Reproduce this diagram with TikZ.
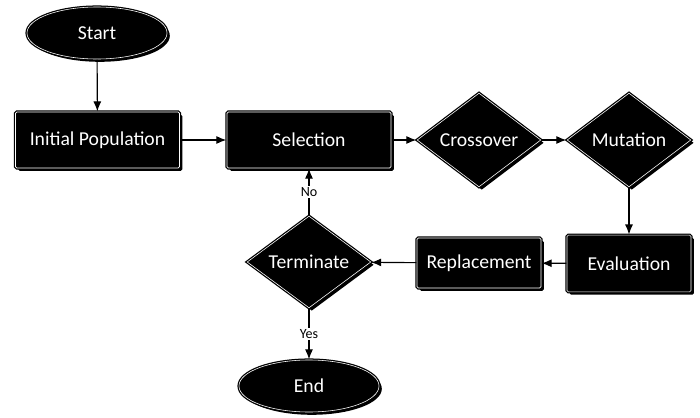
\documentclass[tikz,border=0pt]{standalone}
\usepackage{fontspec}
\setmainfont{Carlito}
\usetikzlibrary{shapes.geometric,shadows,arrows.meta}
\begin{document}
\begin{tikzpicture}[x=0.025cm,y=0.025cm,>={Latex[length=2.5mm,width=2mm]},
  blk/.style={draw=black,fill=black,double=white,double distance=0.4pt,line width=0.9pt,text=white,
    font=\fontsize{14}{16}\selectfont,inner sep=0pt,
    drop shadow={shadow xshift=0.07cm,shadow yshift=-0.07cm,fill=black,opacity=1}},
  term/.style={blk,ellipse,minimum width=3.5cm,minimum height=1.3cm},
  proc/.style={blk,rectangle,rounded corners=1pt,minimum width=3.1cm},
  dec/.style={blk,diamond,aspect=1.3,minimum width=3.1cm,minimum height=2.35cm},
  lbl/.style={fill=white,inner sep=1pt,font=\fontsize{10}{12}\selectfont}]
\useasboundingbox (0,0) rectangle (700,417);
\node[term](start) at (97,384){Start};
\node[proc,minimum width=4.1cm,minimum height=1.4cm](init) at (97.5,277){Initial Population};
\node[proc,minimum width=4.1cm,minimum height=1.4cm](sel) at (309,277){Selection};
\node[dec](cross) at (479,277){Crossover};
\node[dec](mut) at (629,277){Mutation};
\node[proc,minimum height=1.42cm](eval) at (629,153.5){Evaluation};
\node[proc,minimum height=1.25cm](repl) at (479,154){Replacement};
\node[dec,minimum height=2.3cm](stop) at (309,155){Terminate};
\node[term](end) at (309,31){End};
\draw[->,thick](start)--(init);
\draw[->,thick](init)--(sel);
\draw[->,thick](sel)--(cross);
\draw[->,thick](cross)--(mut);
\draw[->,thick](mut)--(eval);
\draw[->,thick](eval)--(repl);
\draw[->,thick](repl)--(stop);
\draw[->,thick](stop)--node[lbl]{No}(sel);
\draw[->,thick](stop)--node[lbl]{Yes}(end);
\end{tikzpicture}
\end{document}
